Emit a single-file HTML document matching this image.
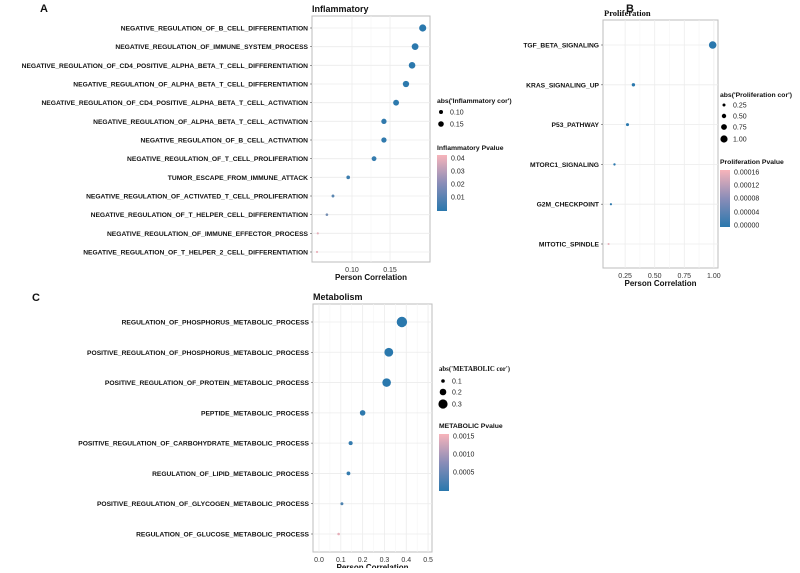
<!DOCTYPE html>
<html><head><meta charset="utf-8"><style>
body{margin:0;background:#fff;}
</style></head><body>
<svg id="s" width="800" height="568" xmlns="http://www.w3.org/2000/svg" font-family="Liberation Sans, sans-serif">
<defs>
<linearGradient id="gr" x1="0" y1="0" x2="0" y2="1"><stop offset="0" stop-color="#f7b4ba"/><stop offset="0.5" stop-color="#8a8db8"/><stop offset="1" stop-color="#2a78ad"/></linearGradient>
</defs>
</svg>
<script>
const catsA=["NEGATIVE_REGULATION_OF_B_CELL_DIFFERENTIATION","NEGATIVE_REGULATION_OF_IMMUNE_SYSTEM_PROCESS","NEGATIVE_REGULATION_OF_CD4_POSITIVE_ALPHA_BETA_T_CELL_DIFFERENTIATION","NEGATIVE_REGULATION_OF_ALPHA_BETA_T_CELL_DIFFERENTIATION","NEGATIVE_REGULATION_OF_CD4_POSITIVE_ALPHA_BETA_T_CELL_ACTIVATION","NEGATIVE_REGULATION_OF_ALPHA_BETA_T_CELL_ACTIVATION","NEGATIVE_REGULATION_OF_B_CELL_ACTIVATION","NEGATIVE_REGULATION_OF_T_CELL_PROLIFERATION","TUMOR_ESCAPE_FROM_IMMUNE_ATTACK","NEGATIVE_REGULATION_OF_ACTIVATED_T_CELL_PROLIFERATION","NEGATIVE_REGULATION_OF_T_HELPER_CELL_DIFFERENTIATION","NEGATIVE_REGULATION_OF_IMMUNE_EFFECTOR_PROCESS","NEGATIVE_REGULATION_OF_T_HELPER_2_CELL_DIFFERENTIATION"];
const corA=[0.193,0.183,0.179,0.171,0.158,0.142,0.142,0.129,0.095,0.075,0.067,0.055,0.054];
const pA=[0.0005,0.001,0.001,0.0015,0.002,0.004,0.004,0.006,0.008,0.016,0.022,0.042,0.043];
const ticksA=[0.10,0.15];
const catsB=["TGF_BETA_SIGNALING","KRAS_SIGNALING_UP","P53_PATHWAY","MTORC1_SIGNALING","G2M_CHECKPOINT","MITOTIC_SPINDLE"];
const corB=[0.99,0.32,0.27,0.16,0.13,0.11];
const pB=[0,0.000001,0.000002,0.000005,0.00001,0.00016];
const ticksB=[0.25,0.50,0.75,1.00];
const catsC=["REGULATION_OF_PHOSPHORUS_METABOLIC_PROCESS","POSITIVE_REGULATION_OF_PHOSPHORUS_METABOLIC_PROCESS","POSITIVE_REGULATION_OF_PROTEIN_METABOLIC_PROCESS","PEPTIDE_METABOLIC_PROCESS","POSITIVE_REGULATION_OF_CARBOHYDRATE_METABOLIC_PROCESS","REGULATION_OF_LIPID_METABOLIC_PROCESS","POSITIVE_REGULATION_OF_GLYCOGEN_METABOLIC_PROCESS","REGULATION_OF_GLUCOSE_METABOLIC_PROCESS"];
const corC=[0.38,0.32,0.31,0.20,0.145,0.135,0.105,0.09];
const pC=[0.00001,0.00002,0.00002,0.0001,0.0002,0.0002,0.0005,0.0016];
const ticksC=[0.0,0.1,0.2,0.3,0.4,0.5];

const S=document.getElementById('s');const NS="http://www.w3.org/2000/svg";
function mk(t,a,txt){const e=document.createElementNS(NS,t);for(const k in a)e.setAttribute(k,a[k]);if(txt!==undefined)e.textContent=txt;S.appendChild(e);return e;}
function lerp(a,b,t){return Math.round(a+(b-a)*t);}
function col(t){t=Math.max(0,Math.min(1,t));
 return `rgb(${lerp(42,247,t)},${lerp(120,180,t)},${lerp(173,186,t)})`;}
function panel(o){
 const {x0,x1,y0,y1,v0,v1,cats,cor,p,pmax,ticks,dec,rMin,rMax,cmin,cmax,name}=o;
 const xs=v=>x0+(v-v0)/(v1-v0)*(x1-x0);
 const n=cats.length;const ys=i=>o.yTop+i*(o.yBot-o.yTop)/(n-1);
 let r=mk('rect',{x:x0,y:y0,width:x1-x0,height:y1-y0,fill:'#fff',stroke:'#bdbdbd','stroke-width':1});
 
 ticks.forEach((t,i)=>{const x=xs(t);
  let g=mk('line',{x1:x,x2:x,y1:y0,y2:y1,stroke:'#ececec','stroke-width':0.8});
  
  if(i<ticks.length-1){const xm=xs((t+ticks[i+1])/2);mk('line',{x1:xm,x2:xm,y1:y0,y2:y1,stroke:'#f5f5f5','stroke-width':0.6});}
  let tl=mk('text',{x:x,y:y1+10,'font-size':7,'text-anchor':'middle',fill:'#333'},t.toFixed(dec));
  
 });
 cats.forEach((c,i)=>{const y=ys(i);
  let g=mk('line',{x1:x0,x2:x1,y1:y,y2:y,stroke:'#ececec','stroke-width':0.8});
  
  mk('line',{x1:x0-2,x2:x0,y1:y,y2:y,stroke:'#555','stroke-width':0.6});
  let l=mk('text',{x:x0-4,y:y+2.5,'font-size':o.fs,'font-weight':'bold','text-anchor':'end',fill:'#111'},c);
  
 });
 cor.forEach((v,i)=>{const rr=rMin+(v-cmin)/(cmax-cmin)*(rMax-rMin);
  let d=mk('circle',{cx:xs(v),cy:ys(i),r:Math.max(0.8,rr),fill:col(Math.pow(p[i]/pmax,1.4))});
  
 });
 let xt=mk('text',{x:(x0+x1)/2,y:y1+18,'font-size':8,'font-weight':'bold','text-anchor':'middle',fill:'#111'},'Person Correlation');
 
}
function T(x,y,s,fs,nm,extra){const a=Object.assign({x:x,y:y,'font-size':fs,'font-weight':'bold',fill:'#111'},extra||{});const e=mk('text',a,s);return e;}

panel({name:'inflammatory',x0:312,x1:430,y0:16,y1:262,v0:0.0474,v1:0.2026,yTop:28,yBot:252,cats:catsA,cor:corA,p:pA,pmax:0.045,ticks:ticksA,dec:2,rMin:1,rMax:3.6,cmin:0.05,cmax:0.195,fs:6.7});
panel({name:'proliferation',x0:603,x1:718,y0:20,y1:268,v0:0.063,v1:1.035,yTop:45,yBot:244,cats:catsB,cor:corB,p:pB,pmax:0.00017,ticks:ticksB,dec:2,rMin:1,rMax:3.8,cmin:0.1,cmax:1.0,fs:6.7});
panel({name:'metabolism',x0:313,x1:432,y0:304,y1:552,v0:-0.0275,v1:0.518,yTop:322,yBot:534,cats:catsC,cor:corC,p:pC,pmax:0.0017,ticks:ticksC,dec:1,rMin:1.3,rMax:5.2,cmin:0.09,cmax:0.38,fs:6.7});

T(40,12,'A',11,'panel-label-a');T(626,12,'B',11,'panel-label-b');T(32,301,'C',11,'panel-label-c');
T(312,12,'Inflammatory',9,'inflammatory-title');
T(604,16,'Proliferation',8.5,'proliferation-title',{'font-family':'Liberation Serif, serif'});
T(313,300,'Metabolism',9,'metabolism-title');

function legend(x,yT,title,serif,sizes,rs,yS,ct,cl,cy0,cy1,ly){
 T(x,yT,title,6.8,'size-legend-title',serif?{'font-family':'Liberation Serif, serif'}:{});
 sizes.forEach((s,i)=>{const c=mk('circle',{cx:x+4,cy:yS[i],r:rs[i],fill:'#000'});
  const t=mk('text',{x:x+13,y:yS[i]+2.5,'font-size':7,fill:'#222'},s);});
 T(x,ct,cl,6.8,'color-legend-title');
 const r=mk('rect',{x:x,y:cy0,width:10,height:cy1-cy0,fill:'url(#gr)'});
 ly.forEach(([s,y])=>{const t=mk('text',{x:x+14,y:y+2.5,'font-size':7,fill:'#222'},s);});
}
legend(437,103,"abs('Inflammatory cor')",false,["0.10","0.15"],[2,2.8],[112,124],150,"Inflammatory Pvalue",155,211,[["0.04",158],["0.03",171],["0.02",184],["0.01",197]]);
legend(720,97,"abs('Proliferation cor')",false,["0.25","0.50","0.75","1.00"],[1.5,2.2,2.9,3.6],[105,116,127,139],164,"Proliferation Pvalue",170,227,[["0.00016",172],["0.00012",185],["0.00008",198],["0.00004",212],["0.00000",225]]);
legend(439,371,"abs('METABOLIC cor')",true,["0.1","0.2","0.3"],[1.8,3.3,4.6],[381,392,404],428,"METABOLIC Pvalue",434,491,[["0.0015",436],["0.0010",454],["0.0005",472]]);
</script>
</body></html>
